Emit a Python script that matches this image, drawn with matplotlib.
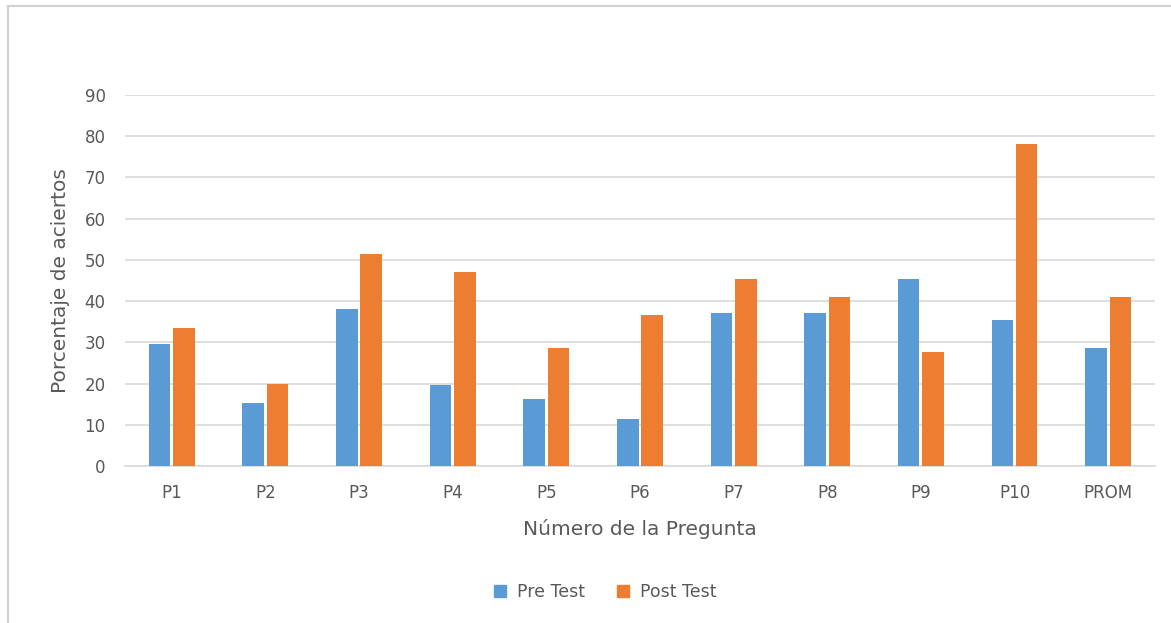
import matplotlib.pyplot as plt
import numpy as np
from matplotlib.lines import Line2D

preguntas = ["P1", "P2", "P3", "P4", "P5", "P6", "P7", "P8", "P9", "P10", "PROM"]
pre_test = [29.6, 15.4, 38.0, 19.6, 16.3, 11.5, 37.0, 37.0, 45.4, 35.5, 28.6]
post_test = [33.4, 20.0, 51.4, 47.0, 28.6, 36.7, 45.4, 40.9, 27.6, 78.2, 40.9]

plt.rcParams['font.family'] = ['DejaVu Sans']
gris = '#595959'

fig = plt.figure(figsize=(11.71, 6.23), dpi=100)
ax = fig.add_axes([0.1067, 0.252, 0.8796, 0.5955])

x = np.arange(len(preguntas))
w = 0.23
ax.bar(x - 0.13, pre_test, width=w, color='#5b9bd5', label='Pre Test', zorder=3)
ax.bar(x + 0.13, post_test, width=w, color='#ed7d31', label='Post Test', zorder=3)

ax.set_xlim(-0.5, len(preguntas) - 0.5)
ax.set_ylim(0, 90)
ax.set_yticks(range(0, 91, 10))
ax.set_xticks(x)
ax.set_xticklabels(preguntas)
ax.tick_params(axis='both', length=0, labelsize=12, colors=gris)
ax.tick_params(axis='x', pad=13)
ax.tick_params(axis='y', pad=14)
ax.grid(axis='y', color='#d9d9d9', linewidth=1.2, zorder=0)
for s in ['top', 'right', 'left']:
    ax.spines[s].set_visible(False)
ax.spines['bottom'].set_color('#d9d9d9')
ax.spines['bottom'].set_linewidth(1.2)

ax.set_xlabel("Número de la Pregunta", fontsize=14.5, color=gris, labelpad=12)
ax.set_ylabel("Porcentaje de aciertos", fontsize=14.5, color=gris, labelpad=10)

handles = [Line2D([], [], marker='s', linestyle='', color='#5b9bd5', markersize=8),
           Line2D([], [], marker='s', linestyle='', color='#ed7d31', markersize=8)]
fig.legend(handles, ['Pre Test', 'Post Test'], loc='center', bbox_to_anchor=(0.512, 0.05),
           ncol=2, frameon=False, fontsize=12.5, labelcolor=gris, handletextpad=0.0,
           columnspacing=1.2)

# borde del gráfico
fig.add_artist(Line2D([0.007, 0.007], [0, 0.99], transform=fig.transFigure, color='#d0d0d0', linewidth=1.5))
fig.add_artist(Line2D([0.007, 1], [0.99, 0.99], transform=fig.transFigure, color='#d0d0d0', linewidth=1.5))

fig.savefig("out.png", dpi=100)
